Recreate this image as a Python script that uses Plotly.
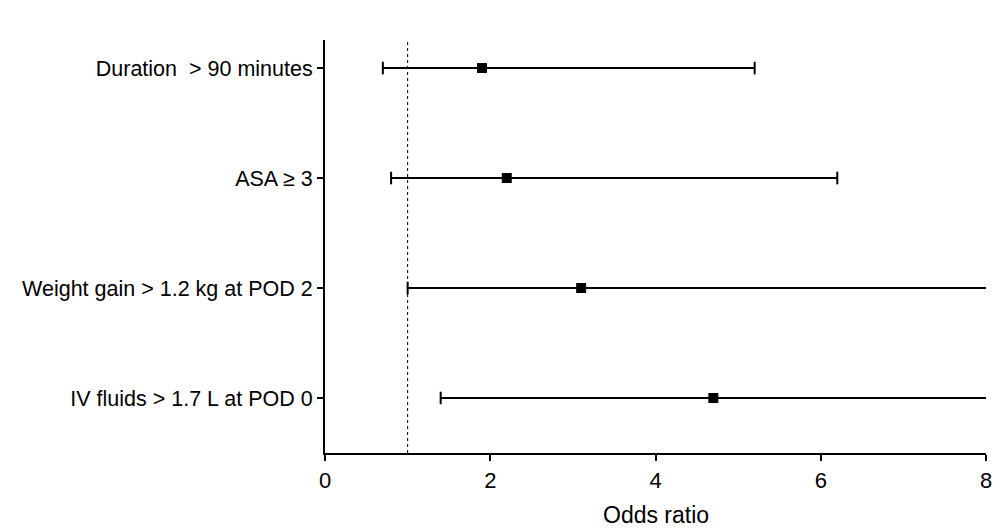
import plotly.graph_objects as go

categories = ["Duration  > 90 minutes", "ASA \u2265 3", "Weight gain > 1.2 kg at POD 2", "IV fluids > 1.7 L at POD 0"]
odds_ratio = [1.9, 2.2, 3.1, 4.7]
ci_low = [0.7, 0.8, 1.0, 1.4]
ci_high = [5.2, 6.2, 8.05, 8.05]
upper_cap = [True, True, False, False]
reference_line = 1.0

FONT = "Arial, Liberation Sans, sans-serif"
fig = go.Figure()

for cat, lo, hi, cap in zip(categories, ci_low, ci_high, upper_cap):
    fig.add_trace(go.Scatter(x=[lo, hi], y=[cat, cat], mode="lines",
                             line=dict(color="black", width=2), cliponaxis=False,
                             showlegend=False, hoverinfo="skip"))
    caps_x = [lo] + ([hi] if cap else [])
    fig.add_trace(go.Scatter(x=caps_x, y=[cat] * len(caps_x), mode="markers",
                             marker=dict(symbol="line-ns", size=9,
                                         line=dict(color="black", width=2)),
                             cliponaxis=False, showlegend=False, hoverinfo="skip"))

fig.add_trace(go.Scatter(x=odds_ratio, y=categories, mode="markers",
                         marker=dict(symbol="square", size=10, color="black"),
                         showlegend=False))

fig.add_shape(type="line", x0=reference_line, x1=reference_line, y0=0, y1=1,
              xref="x", yref="paper", line=dict(color="black", width=1, dash="dot"))

fig.add_annotation(text="Odds ratio", xref="paper", yref="paper", x=0.5, y=0,
                   yshift=-62, yanchor="middle", showarrow=False,
                   font=dict(size=23, family=FONT, color="black"))

fig.update_layout(
    width=995, height=522,
    margin=dict(l=317, r=17, t=32, b=77, autoexpand=False),
    paper_bgcolor="white", plot_bgcolor="white",
    font=dict(family=FONT, color="black"),
    xaxis=dict(range=[0, 8], tickvals=[0, 2, 4, 6, 8], showgrid=False, zeroline=False,
               showline=True, linecolor="black", linewidth=2, automargin=False,
               ticks="outside", ticklen=6, tickwidth=2, tickcolor="black",
               ticklabelstandoff=1,
               tickfont=dict(size=22, family=FONT)),
    yaxis=dict(type="category", categoryarray=categories[::-1], range=[-0.5, 3.255],
               showgrid=False, zeroline=False, showline=True, linecolor="black", linewidth=2,
               automargin=False,
               ticks="outside", ticklen=6, tickwidth=2, tickcolor="black",
               tickfont=dict(size=21.5, family=FONT)),
)

fig.write_html("out.html")
